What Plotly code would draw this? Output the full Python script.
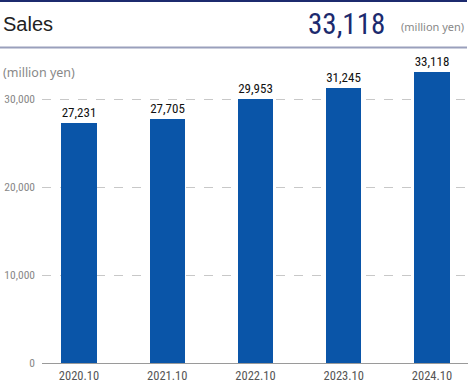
import plotly.graph_objects as go

categories = ["2020.10", "2021.10", "2022.10", "2023.10", "2024.10"]
sales = [27231, 27705, 29953, 31245, 33118]
y_ticks = [0, 10000, 20000, 30000]
y_tick_labels = ["0", "10,000", "20,000", "30,000"]

COND = "Roboto Condensed, Liberation Sans Narrow, DejaVu Sans Condensed, Roboto"
BAR = "#0a55a8"

W, H = 470, 386
L, R, T, B = 42, 2, 60, 23


def ypix(py):
    return (H - B - py) / (H - T - B)


def xpix(px):
    return (px - L) / (W - L - R)


fig = go.Figure()
fig.add_trace(go.Bar(
    x=list(range(len(categories))), y=sales,
    marker=dict(color=BAR, line=dict(width=0)),
    width=0.40,
    text=[f"{v:,}" for v in sales], textposition="outside",
    textfont=dict(family=COND, size=13, color="#111111"),
    cliponaxis=False,
))

fig.update_layout(
    width=W, height=H,
    margin=dict(l=L, r=R, t=T, b=B),
    paper_bgcolor="white", plot_bgcolor="white",
    showlegend=False,
    bargap=0,
    xaxis=dict(
        tickmode="array", tickvals=list(range(len(categories))), ticktext=categories,
        range=[-0.419, 4.408], showgrid=False, zeroline=False,
        showline=True, linecolor="#9a9a9a", linewidth=1,
        tickfont=dict(family=COND, size=12.5, color="#555555"),
        ticks="", ticklabelstandoff=1,
    ),
    yaxis=dict(
        tickmode="array", tickvals=y_ticks, ticktext=y_tick_labels,
        range=[0, 34432], showgrid=True, gridcolor="#c8c8c8", griddash="dash",
        gridwidth=1, zeroline=False, showline=False, ticks="",
        tickfont=dict(family=COND, size=11.5, color="#888888"),
        ticklabelstandoff=6,
    ),
)

fig.add_shape(type="line", xref="paper", yref="paper",
              x0=xpix(0), x1=xpix(467), y0=ypix(1), y1=ypix(1),
              line=dict(color="#1c2a6e", width=2))
fig.add_shape(type="line", xref="paper", yref="paper",
              x0=xpix(0), x1=xpix(467), y0=ypix(47.5), y1=ypix(47.5),
              line=dict(color="#9aa0bc", width=2))

fig.add_annotation(xref="paper", yref="paper", x=xpix(1), y=ypix(24),
                   text="Sales", showarrow=False, xanchor="left", yanchor="middle",
                   font=dict(family="Liberation Sans, Arial", size=20, color="#222222"))
fig.add_annotation(xref="paper", yref="paper", x=xpix(387), y=ypix(24),
                   text=f"{sales[-1]:,}", showarrow=False, xanchor="right", yanchor="middle",
                   font=dict(family=COND, size=29, color="#1c2a6e"))
fig.add_annotation(xref="paper", yref="paper", x=xpix(466), y=ypix(27),
                   text="(million yen)", showarrow=False, xanchor="right", yanchor="middle",
                   font=dict(family="Noto Sans, Roboto", size=11, color="#888888"))
fig.add_annotation(xref="paper", yref="paper", x=xpix(1), y=ypix(73),
                   text="(million yen)", showarrow=False, xanchor="left", yanchor="middle",
                   font=dict(family="Noto Sans, Roboto", size=12.5, color="#888888"))

fig.write_html("out.html", config={"displayModeBar": False},
               post_script="document.body.style.margin='0';")
